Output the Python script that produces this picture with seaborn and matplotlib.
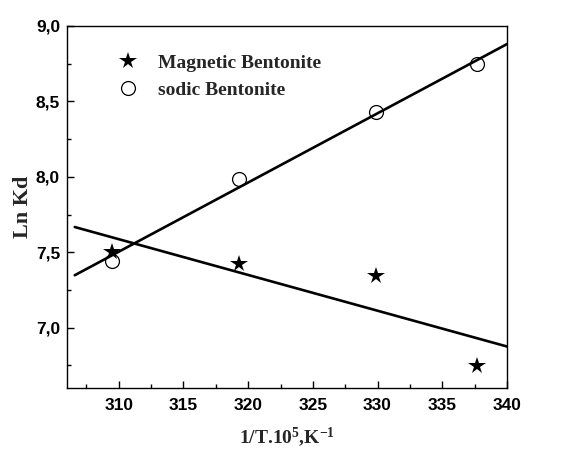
import numpy as np
import pandas as pd
import matplotlib
matplotlib.use("Agg")
import matplotlib.pyplot as plt
from matplotlib.ticker import MultipleLocator, FuncFormatter
import seaborn as sns

# 1/T x 10^5 (K^-1)
inv_temp = [309.46, 319.33, 329.88, 337.71]
# Ln Kd for the two adsorbents
lnkd_magnetic = [7.50, 7.42, 7.345, 6.744]
lnkd_sodic = [7.44, 7.985, 8.43, 8.746]
series_names = ["Magnetic Bentonite", "sodic Bentonite"]

sns.set_theme(style="ticks")
plt.rcParams["font.family"] = ["Liberation Sans", "DejaVu Sans"]
plt.rcParams["font.weight"] = "bold"
plt.rcParams["mathtext.fontset"] = "custom"
plt.rcParams["mathtext.rm"] = "Liberation Serif:bold"
plt.rcParams["mathtext.it"] = "Liberation Serif:bold"
plt.rcParams["mathtext.bf"] = "Liberation Serif:bold"

fig = plt.figure(figsize=(5.79, 4.49), dpi=100)
ax = fig.add_axes([0.1157, 0.1359, 0.8756 - 0.1157, 0.9421 - 0.1359])

df_mag = pd.DataFrame({"x": inv_temp, "y": lnkd_magnetic})
df_sod = pd.DataFrame({"x": inv_temp, "y": lnkd_sodic})

# Linear van't Hoff fits drawn across the plotted temperature span
fit_x = np.linspace(306.6, 340.0, 50)
for df in (df_mag, df_sod):
    slope, intercept = np.polyfit(df["x"], df["y"], 1)
    fit = pd.DataFrame({"x": fit_x, "y": slope * fit_x + intercept})
    sns.lineplot(data=fit, x="x", y="y", ax=ax, color="black", lw=1.9,
                 legend=False, zorder=2)

ax.plot(df_mag["x"], df_mag["y"], ls="none", marker="*", ms=13,
        color="black", mew=0, label=series_names[0], zorder=3)
ax.plot(df_sod["x"], df_sod["y"], ls="none", marker="o", ms=10,
        mfc="none", mec="black", mew=0.9, label=series_names[1], zorder=3)

ax.set_xlim(306.0, 340.0)
ax.set_ylim(6.6, 9.0)
ax.xaxis.set_major_locator(MultipleLocator(5))
ax.xaxis.set_minor_locator(MultipleLocator(2.5))
ax.yaxis.set_major_locator(MultipleLocator(0.5))
ax.yaxis.set_minor_locator(MultipleLocator(0.25))
ax.yaxis.set_major_formatter(FuncFormatter(lambda v, p: f"{v:.1f}".replace(".", ",")))
ax.tick_params(which="major", direction="in", length=5, width=1, colors="black",
               labelsize=12.5, pad=7)
ax.tick_params(axis="y", which="major", pad=5)
ax.tick_params(which="minor", direction="in", length=3, width=1, colors="black")

for s in ax.spines.values():
    s.set_visible(True)
    s.set_color("black")
    s.set_linewidth(1.0)

serif = ["Liberation Serif", "DejaVu Serif"]
ax.set_xlabel(r"1/T.10$^{5}$,K$^{-1}$", family=serif, fontweight="bold",
              fontsize=14, labelpad=9)
ax.set_ylabel("Ln Kd", family=serif, fontweight="bold", fontsize=16, labelpad=2)

leg = ax.legend(loc="upper left", bbox_to_anchor=(0.072, 0.97), frameon=False,
                handlelength=1.2, handletextpad=0.95, labelspacing=0.5,
                prop={"family": serif, "weight": "bold", "size": 14})

fig.savefig("out.png", dpi=100, facecolor="white")
